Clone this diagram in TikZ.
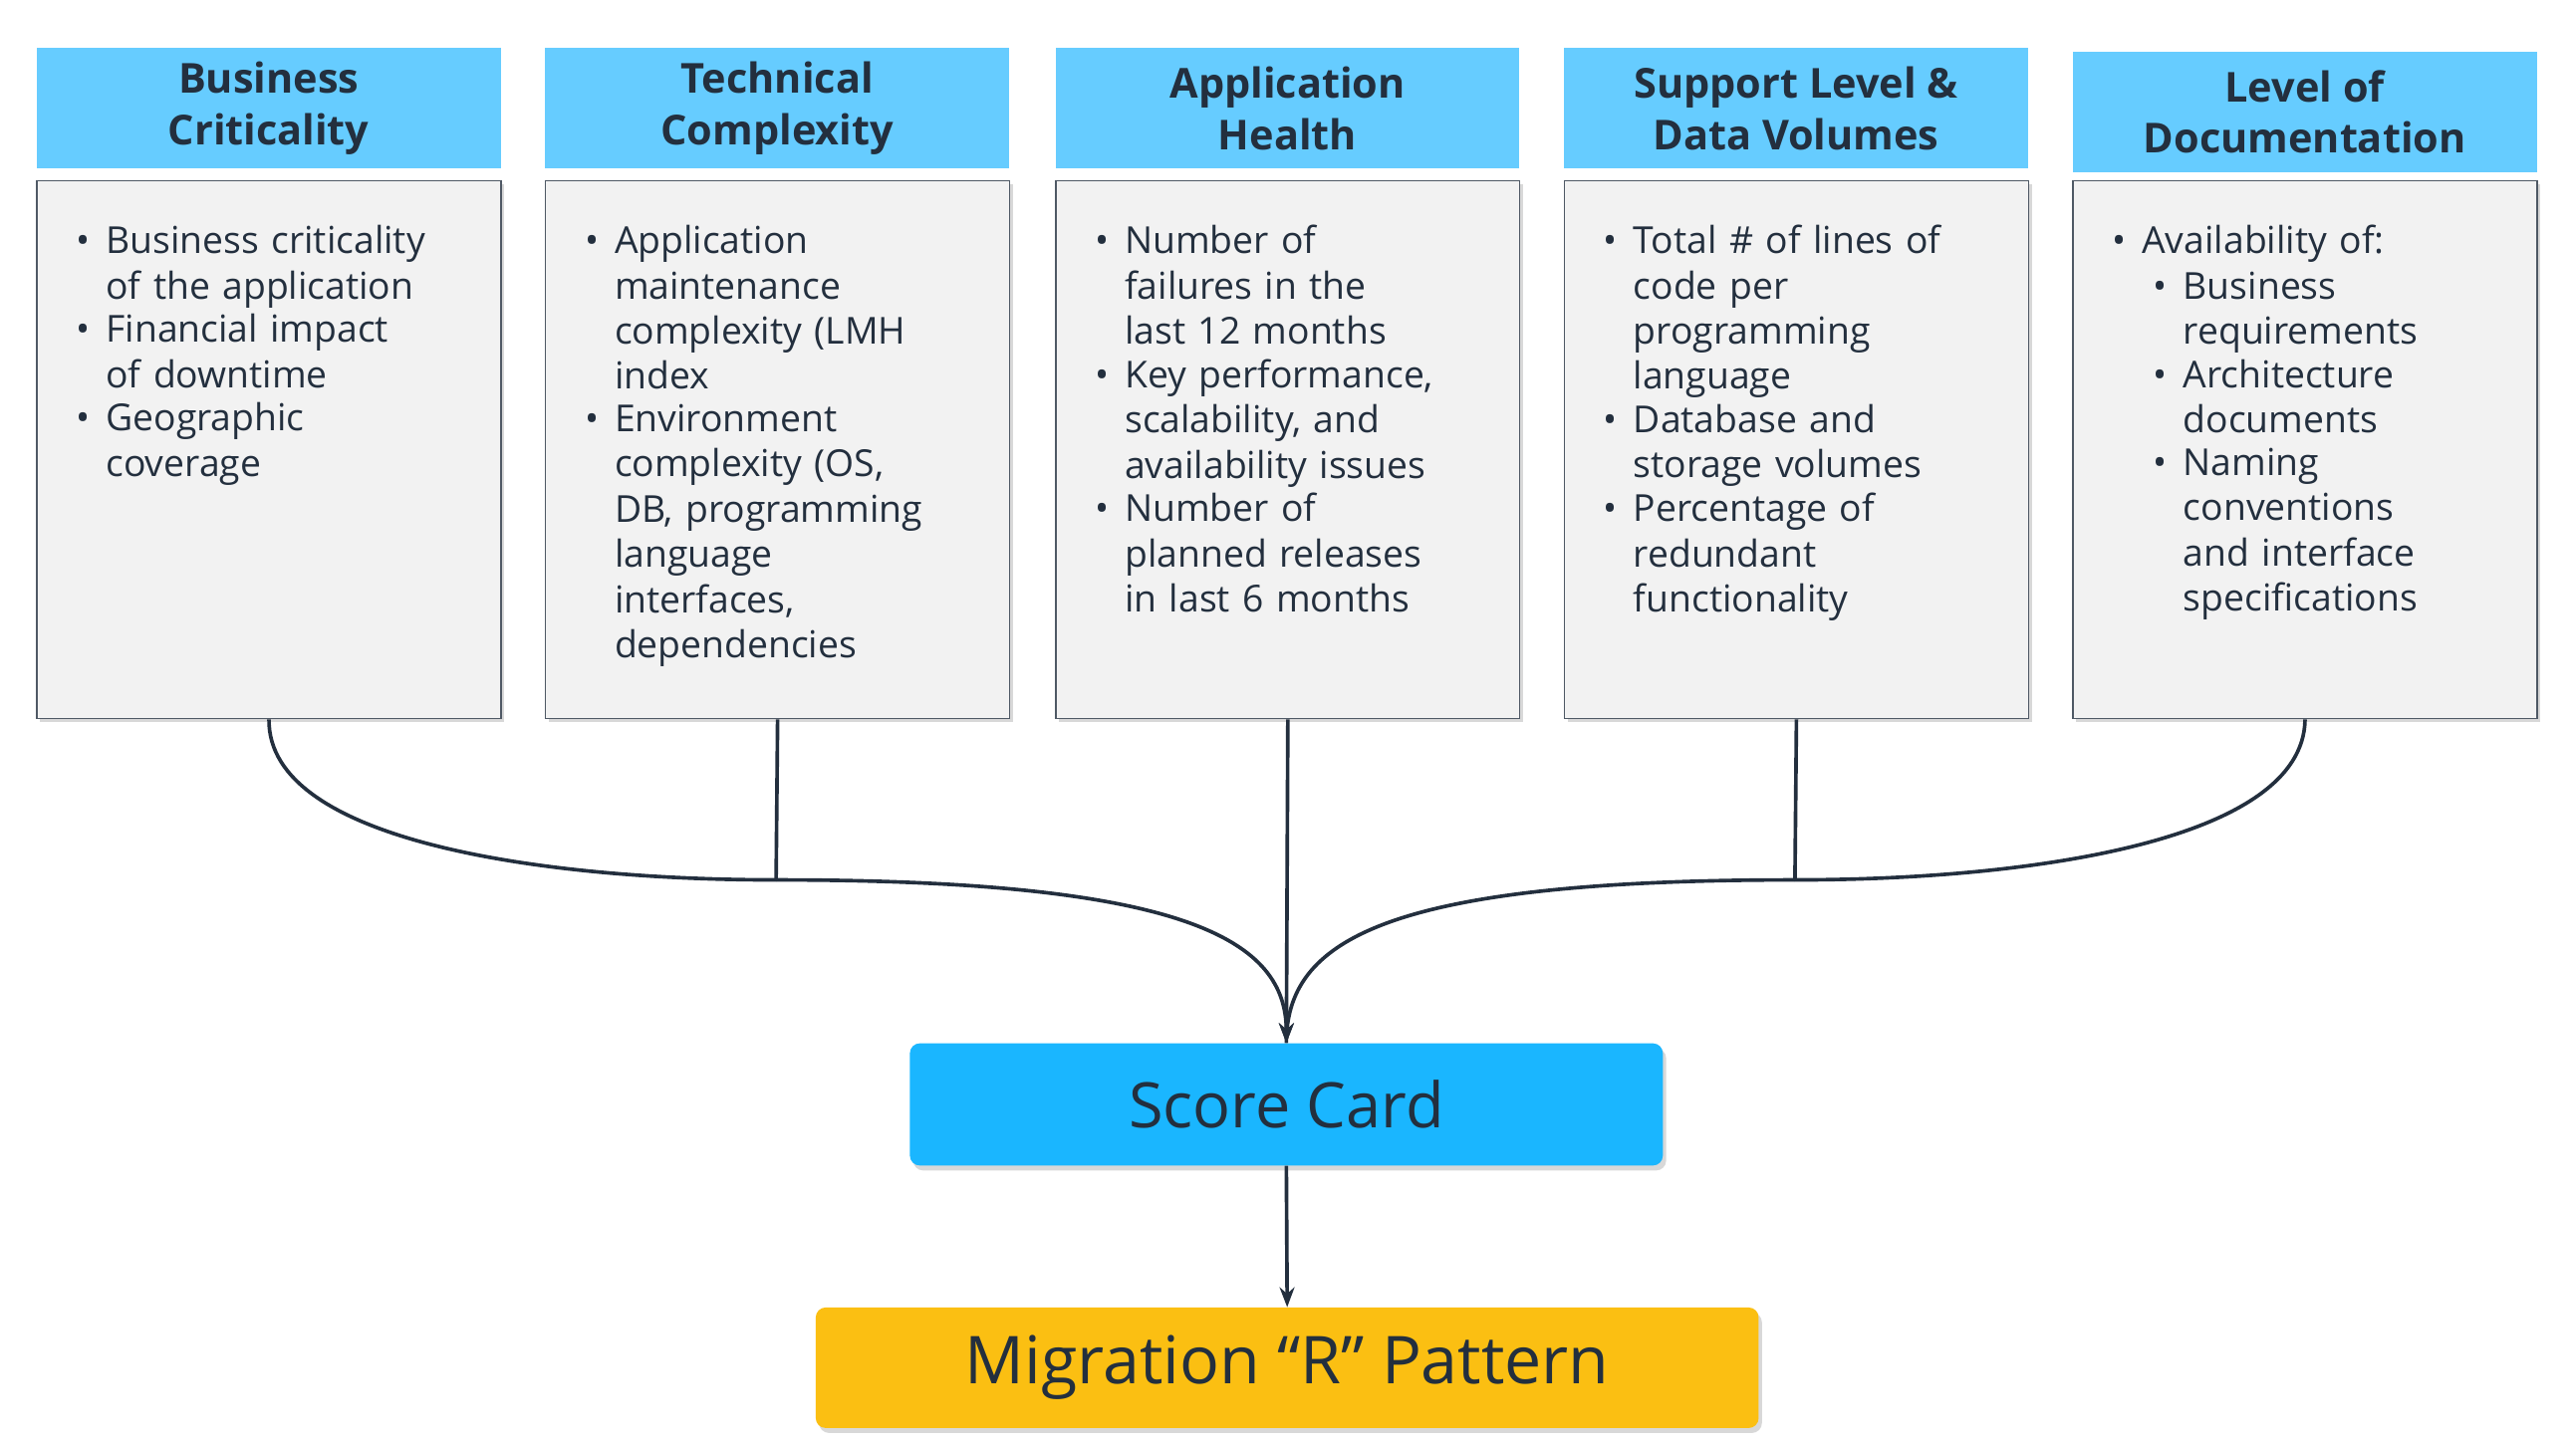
\documentclass[tikz,border=0pt]{standalone}
\usepackage{fontspec}
\setmainfont{Open Sans}
\usetikzlibrary{shadows,arrows.meta}
\definecolor{hdr}{HTML}{66CCFF}
\definecolor{bodyc}{HTML}{F2F2F2}
\definecolor{scc}{HTML}{1AB6FF}
\definecolor{mig}{HTML}{FBBF12}
\definecolor{ln}{HTML}{232F3E}
\newcommand{\bi}[1]{\par\noindent\makebox[18pt][l]{\textbullet}\parbox[t]{235pt}{#1\strut}\par}
\newcommand{\sbi}[1]{\par\noindent\hspace*{25pt}\makebox[18pt][l]{\textbullet}\parbox[t]{210pt}{#1\strut}\par}
\begin{document}
\begin{tikzpicture}[x=1pt,y=-1pt,
 hd/.style={fill=hdr,minimum width=281pt,minimum height=73pt,align=center,font=\fontsize{25}{31}\selectfont\bfseries,text=ln,inner sep=0},
 bd/.style={fill=bodyc,draw=ln!80,line width=0.8pt,minimum width=281pt,minimum height=326pt,drop shadow={shadow xshift=2pt,shadow yshift=-2pt,opacity=0.3},anchor=north west,inner sep=0},
 tx/.style={anchor=north west,text width=255pt,font=\fontsize{22.5}{27.4}\selectfont,text=ln,inner sep=0},
 con/.style={draw=ln,line width=2.2pt},
 big/.style={rounded corners=6pt,drop shadow={shadow xshift=2pt,shadow yshift=-3pt,opacity=0.3},text=ln}]
\useasboundingbox (0,0) rectangle (1560,877);
\fill[white] (0,0) rectangle (1560,877);
\foreach \i/\x/\y/\t in {1/22/29/{Business\\Criticality},2/330/29/{Technical\\Complexity},3/639/29/{Application\\Health},4/947/29/{Support Level \&\\Data Volumes},5/1255/31/{Level of\\Documentation}}{
 \node[hd,anchor=north west] (h\i) at (\x,\y) {\t};
 \node[bd] (b\i) at (\x,109) {};
}
\node[tx] (t1) at (46,126) {\bi{Business criticality\\of the application}\bi{Financial impact\\of downtime}\bi{Geographic\\coverage}};
\node[tx] (t2) at (354,126) {\bi{Application\\maintenance\\complexity (LMH\\index}\bi{Environment\\complexity (OS,\\DB, programming\\language\\interfaces,\\dependencies}};
\node[tx] (t3) at (663,126) {\bi{Number of\\failures in the\\last 12 months}\bi{Key performance,\\scalability, and\\availability issues}\bi{Number of\\planned releases\\in last 6 months}};
\node[tx] (t4) at (971,126) {\bi{Total \# of lines of\\code per\\programming\\language}\bi{Database and\\storage volumes}\bi{Percentage of\\redundant\\functionality}};
\node[tx] (t5) at (1279,126) {\bi{Availability of:}\sbi{Business\\requirements}\sbi{Architecture\\documents}\sbi{Naming\\conventions\\and interface\\specifications}};
\node[big,fill=scc,minimum width=456pt,minimum height=74pt,font=\fontsize{38}{44}\selectfont] (sc) at (779,669) {Score Card};
\node[big,fill=mig,minimum width=571pt,minimum height=73pt,font=\fontsize{40}{46}\selectfont] (mp) at (779.5,828.5) {Migration “R” Pattern};
\coordinate (j1) at (470,533);
\coordinate (j2) at (1087,533);
\draw[con] (b1.south) .. controls (162,510) and (330,533) .. (j1);
\draw[con] (b2.south) -- (j1);
\draw[con,-{Stealth[length=12pt,width=9pt]}] (j1) .. controls (720,533) and (779,570) .. (sc.north);
\draw[con] (b5.south) .. controls (1395,510) and (1227,533) .. (j2);
\draw[con] (b4.south) -- (j2);
\draw[con] (j2) .. controls (838,533) and (779,570) .. (sc.north);
\draw[con,-{Stealth[length=12pt,width=9pt]}] (b3.south) -- (sc.north);
\draw[con,-{Stealth[length=12pt,width=9pt]}] (sc.south) -- (mp.north);
\end{tikzpicture}
\end{document}
